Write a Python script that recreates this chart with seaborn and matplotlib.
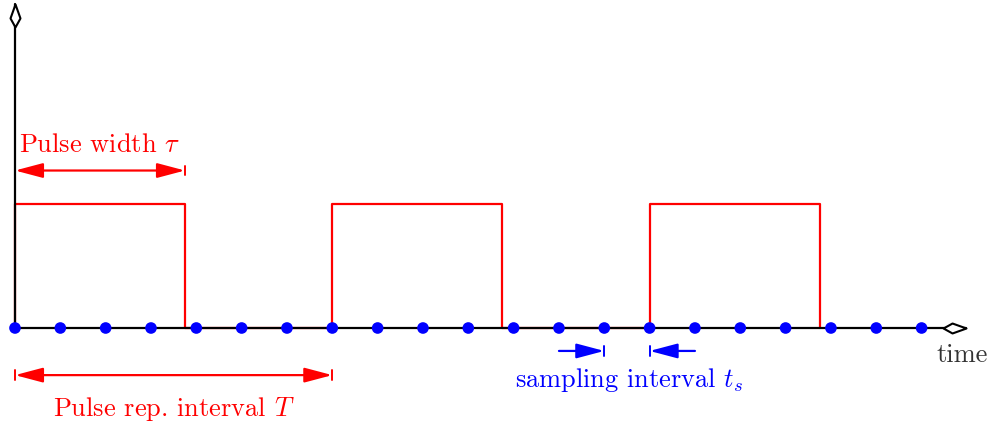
import numpy as np
import pandas as pd
import matplotlib
matplotlib.use("Agg")
import matplotlib.pyplot as plt
from matplotlib.path import Path
from matplotlib.patches import FancyArrowPatch
import seaborn as sns

# signal description (time in units of the sampling interval t_s)
pulse_starts = [0, 7, 14]
pulse_width = 3.75
pulse_period = 7
pulse_height = 1.0
sample_times = list(range(0, 21))

sns.set_style("white")
plt.rcParams["font.family"] = "serif"
plt.rcParams["font.serif"] = ["cmr10", "DejaVu Serif"]
plt.rcParams["mathtext.fontset"] = "cm"
plt.rcParams["axes.unicode_minus"] = False

RED = "#ff0000"
BLUE = "#0000ff"

# build the pulse outline from the starts / width
px, py = [], []
for s in pulse_starts:
    px += [s, s, s + pulse_width, s + pulse_width]
    py += [0, pulse_height, pulse_height, 0]
pulse = pd.DataFrame({"t": px, "v": py})
samples = pd.DataFrame({"t": sample_times, "v": np.zeros(len(sample_times))})

fig = plt.figure(figsize=(9.94, 4.27), dpi=100)
ax = fig.add_axes([0, 0, 1, 1])
ax.set_xlim(-15 / 45.33, (994 - 15) / 45.33)
ax.set_ylim(-98 / 124, 329 / 124)
ax.axis("off")

sns.lineplot(data=pulse, x="t", y="v", estimator=None, sort=False,
             color=RED, lw=1.6, zorder=2, ax=ax)

# axes with open kite heads
x_end = 20.99
y_end = 2.615
ax.plot([0, x_end], [0, 0], color="black", lw=1.6, zorder=3)
ax.plot([0, 0], [0, y_end], color="black", lw=1.6, zorder=3)
head_r = Path([(0, 0), (-14, 5), (-23, 0), (-14, -5), (0, 0)],
              [Path.MOVETO, Path.LINETO, Path.LINETO, Path.LINETO, Path.CLOSEPOLY])
head_u = Path([(0, 0), (5, -14), (0, -23), (-5, -14), (0, 0)],
              [Path.MOVETO, Path.LINETO, Path.LINETO, Path.LINETO, Path.CLOSEPOLY])
ax.plot([x_end], [0], marker=head_r, ms=33, mfc="white", mec="black", mew=1.5, zorder=4)
ax.plot([0], [y_end], marker=head_u, ms=33, mfc="white", mec="black", mew=1.5, zorder=4)

sns.scatterplot(data=samples, x="t", y="v", color=BLUE, s=70,
                edgecolor="none", zorder=5, ax=ax, legend=False)


def dim_arrow(x0, x1, y, color, style, bars=()):
    a = FancyArrowPatch((x0, y), (x1, y), arrowstyle=style,
                        mutation_scale=10, shrinkA=0, shrinkB=0,
                        color=color, lw=1.6, zorder=6)
    ax.add_patch(a)
    for b in bars:
        ax.plot([b, b], [y - 0.04, y + 0.04], color=color, lw=1.4, zorder=6)


hs = "head_length=1.7,head_width=0.45"
# pulse width
dim_arrow(0, pulse_width, 1.27, RED, "<|-|>," + hs, bars=[pulse_width])
ax.text(pulse_width / 2, 1.485, r"Pulse width $\tau$", color=RED,
        fontsize=19, ha="center", va="center")
# pulse repetition interval
dim_arrow(0, pulse_period, -0.38, RED, "<|-|>," + hs, bars=[0, pulse_period])
ax.text(pulse_period / 2, -0.645, r"Pulse rep. interval $T$", color=RED,
        fontsize=19, ha="center", va="center")
# sampling interval
dim_arrow(12, 13, -0.185, BLUE, "-|>," + hs, bars=[13])
dim_arrow(15, 14, -0.185, BLUE, "-|>," + hs, bars=[14])
ax.text(13.55, -0.41, r"sampling interval $t_s$", color=BLUE,
        fontsize=19, ha="center", va="center")

ax.text(20.9, -0.21, "time", color="#333333", fontsize=19,
        ha="center", va="center")

fig.savefig("out.png", dpi=100)
